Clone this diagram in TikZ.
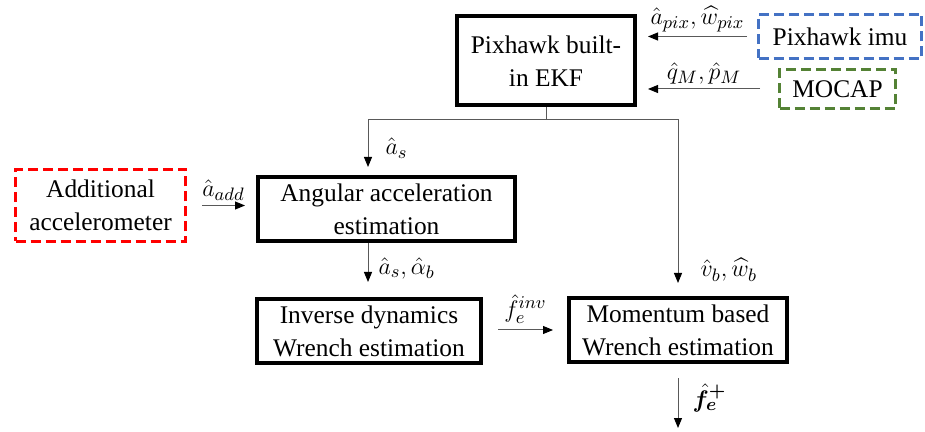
\documentclass[tikz,border=0pt]{standalone}
\usepackage{amsmath,amssymb,bm}
\usepackage{fontspec}
\setmainfont{Liberation Serif}
\usetikzlibrary{arrows.meta,positioning}

\definecolor{imublue}{HTML}{4472C4}
\definecolor{mocapgreen}{HTML}{548235}
\definecolor{accred}{HTML}{FF0000}

\begin{document}
\begin{tikzpicture}[x=0.5pt,y=-0.5pt,font=\fontsize{12.7}{16.5}\selectfont,
    block/.style={draw,line width=2pt,align=center,inner sep=0pt},
    src/.style={draw,line width=1.5pt,dash pattern=on 5pt off 2.5pt,align=center,inner sep=0pt},
    wire/.style={draw=black!65,line width=0.5pt},
    arr/.style={wire,-{Triangle[length=5pt,width=4pt,color=black]}},
    lbl/.style={inner sep=1pt}]
    \useasboundingbox (0,0) rectangle (925,432);
    % blocks
    \node[block,minimum width=89pt,minimum height=44.5pt] (ekf) at (546,61) {Pixhawk built-\\in EKF};
    \node[src,imublue,text=black,minimum width=81.5pt,minimum height=22pt] (imu) at (840,36.5) {Pixhawk imu};
    \node[src,mocapgreen,text=black,minimum width=58pt,minimum height=19.5pt] (mocap) at (837.5,89) {MOCAP};
    \node[src,accred,text=black,minimum width=85pt,minimum height=36pt] (addacc) at (100.5,205.5) {Additional\\accelerometer};
    \node[block,minimum width=128.5pt,minimum height=32pt] (angular) at (386.5,209) {Angular acceleration\\estimation};
    \node[block,minimum width=112pt,minimum height=32pt] (inverse) at (369,331) {Inverse dynamics\\Wrench estimation};
    \node[block,minimum width=109pt,minimum height=32pt] (momentum) at (678,330) {Momentum based\\Wrench estimation};
    % helper points
    \coordinate (split) at (546,120);
    \coordinate (tapL) at (368,167);
    \coordinate (tapR) at (678,283);
    \coordinate (tapI) at (368,282);
    \coordinate (out) at (678,428);
    % connectors
    \draw[arr] ([xshift=-5pt]imu.west) -- ([xshift=5.5pt]ekf.east |- imu.west)
        node[midway,above=1pt,lbl] {$\hat{a}_{pix},\widehat{w}_{pix}$};
    \draw[arr] ([xshift=-9pt]mocap.west) -- ([xshift=5.5pt]ekf.east |- mocap.west)
        node[midway,above=1pt,lbl] {$\hat{q}_{M},\hat{p}_{M}$};
    \draw[wire] (ekf.south) -- (split);
    \draw[arr] (split) -| (tapL) node[pos=0.8,right=7.5pt,lbl] {$\hat{a}_s$};
    \draw[arr] (split) -| (tapR) node[pos=0.96,right=10pt,lbl] {$\hat{v}_b,\widehat{w}_b$};
    \draw[arr] ([xshift=7.5pt]addacc.east) -- ([xshift=-5.5pt]angular.west |- addacc.east)
        node[midway,above=1pt,lbl] {$\hat{a}_{add}$};
    \draw[arr] (tapI |- angular.south) -- (tapI) node[pos=0.65,right=4pt,lbl] {$\hat{a}_s,\hat{\alpha}_b$};
    \draw[arr] ([xshift=7.5pt]inverse.east |- momentum.west) -- ([xshift=-7pt]momentum.west)
        node[midway,above=2pt,lbl] {$\hat{f}_e^{inv}$};
    \draw[arr] ([yshift=-7pt]momentum.south) -- (out) node[pos=0.4,right=6pt,lbl] {$\bm{\hat{f}_e^{+}}$};
\end{tikzpicture}
\end{document}
